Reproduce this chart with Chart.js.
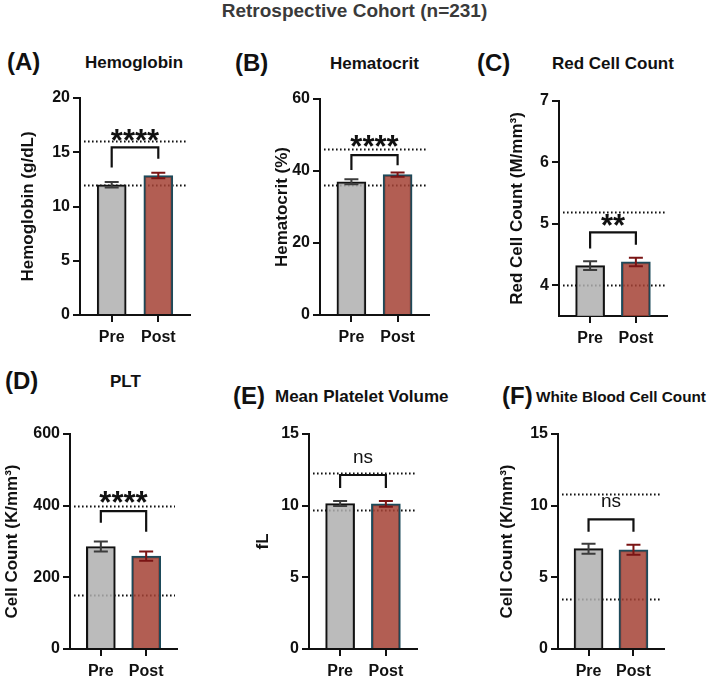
<!DOCTYPE html>
<html>
<head>
<meta charset="utf-8">
<script src="https://cdn.jsdelivr.net/npm/chart.js@4.4.0/dist/chart.umd.min.js"></script>
<style>
body { margin: 0; background: #fff; width: 709px; height: 678px; position: relative; overflow: hidden; font-family: "Liberation Sans", Arial, sans-serif; }
.txt { position: absolute; white-space: nowrap; font-weight: bold; color: #111; }
canvas { position: absolute; }
</style>
</head>
<body>
<div class="txt" style="left:0;width:709px;text-align:center;top:1px;font-size:19px;line-height:19px;color:#3a3a3a">Retrospective Cohort (n=231)</div>
<script>
var groups = ["Pre", "Post"];
var panelIds = ["(A)", "(B)", "(C)", "(D)", "(E)", "(F)"];
var panelTitles = ["Hemoglobin", "Hematocrit", "Red Cell Count", "PLT", "Mean Platelet Volume", "White Blood Cell Count"];
var axisTitles = ["Hemoglobin (g/dL)", "Hematocrit (%)", "Red Cell Count (M/mm³)", "Cell Count (K/mm³)", "fL", "Cell Count (K/mm³)"];
var means = [[12.0, 12.85], [37.0, 39.0], [4.32, 4.38], [286, 259], [10.15, 10.12], [7.0, 6.92]];
var sems = [[0.25, 0.25], [0.7, 0.6], [0.07, 0.07], [14, 13], [0.18, 0.2], [0.35, 0.35]];
var refLines = [[12, 16], [36, 46], [4.0, 5.2], [150, 400], [9.7, 12.3], [3.5, 10.8]];
var yTicks = [[0, 5, 10, 15, 20], [0, 20, 40, 60], [4, 5, 6, 7], [0, 200, 400, 600], [0, 5, 10, 15], [0, 5, 10, 15]];
var yMin = [0, 0, 3.5, 0, 0, 0];
var sigLabels = ["****", "****", "**", "****", "ns", "ns"];
var sigY = [16.8, 48.9, 5.09, 430, 13.3, 10.28];
var bracketY = [15.45, 44.4, 4.86, 385, 12.14, 9.05];
var bracketLegs = [[13.6, 14.4], [40.3, 41.6], [4.6, 4.66], [352, 327], [11.23, 11.23], [8.18, 8.18]];

// where each plot area sits on the page
var layout = [
    { left: 80, right: 190, top: 98, bottom: 315, titleOff: 52, idX: 7, titleX: 85, headY: 62, headSize: 17 },
    { left: 320, right: 429, top: 99, bottom: 315, titleOff: 38, idX: 235, titleX: 330, headY: 63, headSize: 17 },
    { left: 559, right: 667, top: 101, bottom: 316, titleOff: 42, idX: 477, titleX: 552, headY: 63, headSize: 17 },
    { left: 70, right: 177, top: 434, bottom: 649, titleOff: 58, idX: 5, titleX: 110, headY: 381, headSize: 17 },
    { left: 309, right: 417, top: 434, bottom: 649, titleOff: 46, idX: 233, titleX: 275, headY: 396, headSize: 17 },
    { left: 558, right: 664, top: 434, bottom: 649, titleOff: 51, idX: 502, titleX: 536, headY: 396, headSize: 15.3 }
];

var fam = '"Liberation Sans", Arial, sans-serif';
var ink = "#111";
var barFill = ["rgba(175,175,175,0.85)", "rgba(164,66,53,0.85)"];
var barEdge = ["#111", "#1d4a5a"];
var errColor = ["#3c3c3c", "#7a1414"];
Chart.defaults.font.family = fam;

var marksPlugin = {
    id: "marks",
    beforeDatasetsDraw: function (chart, args, opts) {
        var i = opts.index, ctx = chart.ctx, a = chart.chartArea, ys = chart.scales.y;
        ctx.save();
        ctx.strokeStyle = ink;
        ctx.lineWidth = 2;
        ctx.setLineDash([1.6, 2.4]);
        refLines[i].forEach(function (v) {
            var y = Math.round(ys.getPixelForValue(v)) + 0.5;
            ctx.beginPath();
            ctx.moveTo(a.left + 4, y);
            ctx.lineTo(a.right - 2, y);
            ctx.stroke();
        });
        ctx.restore();
    },
    afterDatasetsDraw: function (chart, args, opts) {
        var i = opts.index, ctx = chart.ctx, xs = chart.scales.x, ys = chart.scales.y;
        ctx.save();
        // error bars
        for (var j = 0; j < 2; j++) {
            var x = xs.getPixelForValue(j);
            var t = ys.getPixelForValue(means[i][j] + sems[i][j]);
            var b = ys.getPixelForValue(means[i][j] - sems[i][j]);
            ctx.strokeStyle = errColor[j];
            ctx.lineWidth = 2;
            ctx.beginPath();
            ctx.moveTo(x, t); ctx.lineTo(x, b);
            ctx.moveTo(x - 7, t); ctx.lineTo(x + 7, t);
            ctx.moveTo(x - 7, b); ctx.lineTo(x + 7, b);
            ctx.stroke();
        }
        // bracket
        var x0 = xs.getPixelForValue(0), x1 = xs.getPixelForValue(1);
        var by = ys.getPixelForValue(bracketY[i]);
        ctx.strokeStyle = ink;
        ctx.lineWidth = 2.2;
        ctx.beginPath();
        ctx.moveTo(x0, ys.getPixelForValue(bracketLegs[i][0]));
        ctx.lineTo(x0, by);
        ctx.lineTo(x1, by);
        ctx.lineTo(x1, ys.getPixelForValue(bracketLegs[i][1]));
        ctx.stroke();
        // significance label
        var sy = ys.getPixelForValue(sigY[i]);
        ctx.fillStyle = ink;
        ctx.textAlign = "center";
        ctx.textBaseline = "alphabetic";
        if (sigLabels[i] == "ns") {
            ctx.font = "19px " + fam;
            ctx.fillText("ns", (x0 + x1) / 2, sy + 0.26 * 19);
        } else {
            ctx.font = "bold 31px " + fam;
            ctx.fillText(sigLabels[i], (x0 + x1) / 2, sy + 0.58 * 31);
        }
        ctx.restore();
    }
};

function addText(txt, x, cy, size) {
    var d = document.createElement("div");
    d.className = "txt";
    d.textContent = txt;
    d.style.left = x + "px";
    d.style.top = (cy - 0.49 * size) + "px";
    d.style.fontSize = size + "px";
    d.style.lineHeight = size + "px";
    document.body.appendChild(d);
}

function makePanel(i) {
    var L = layout[i];
    var titleSize = 17;
    var yW = L.titleOff + titleSize * 1.2 / 2;
    var padTop = 24, padRight = 14, xH = 36;
    var cLeft = L.left - yW, cTop = L.top - padTop;
    var cW = L.right + padRight - cLeft, cH = L.bottom + xH - cTop;

    addText(panelIds[i], L.idX, L.headY, 24);
    addText(panelTitles[i], L.titleX, L.headY, L.headSize);

    var canvas = document.createElement("canvas");
    canvas.width = Math.round(cW);
    canvas.height = Math.round(cH);
    canvas.style.left = Math.round(cLeft) + "px";
    canvas.style.top = cTop + "px";
    document.body.appendChild(canvas);

    var tickFont = { size: 16, weight: "bold" };
    var yMax = yTicks[i][yTicks[i].length - 1];

    new Chart(canvas.getContext("2d"), {
        type: "bar",
        data: {
            datasets: [{
                data: groups.map(function (g, k) { return { x: k, y: means[i][k] }; }),
                backgroundColor: barFill,
                borderColor: barEdge,
                borderWidth: 2,
                barThickness: 29,
                base: yMin[i]
            }]
        },
        options: {
            responsive: false,
            animation: false,
            layout: { padding: { left: cLeft - Math.round(cLeft), top: padTop, right: padRight, bottom: 0 } },
            plugins: {
                legend: { display: false },
                tooltip: { enabled: false },
                marks: { index: i }
            },
            scales: {
                x: {
                    type: "linear",
                    offset: false,
                    min: -0.68,
                    max: 1.68,
                    afterBuildTicks: function (s) { s.ticks = groups.map(function (g, k) { return { value: k }; }); },
                    afterFit: function (s) { s.height = xH; },
                    ticks: { font: tickFont, color: ink, padding: 6, maxRotation: 0, autoSkip: false, callback: function (v) { return groups[v]; } },
                    grid: { offset: false, drawOnChartArea: false, drawTicks: true, tickLength: 7, color: ink, lineWidth: 2 },
                    border: { display: true, color: ink, width: 2 }
                },
                y: {
                    min: yMin[i],
                    max: yMax,
                    afterBuildTicks: function (s) { s.ticks = yTicks[i].map(function (v) { return { value: v }; }); },
                    afterFit: function (s) { s.width = yW; },
                    ticks: { font: tickFont, color: ink, padding: 3 },
                    grid: { drawOnChartArea: false, drawTicks: true, tickLength: 7, color: ink, lineWidth: 2 },
                    border: { display: true, color: ink, width: 2 },
                    title: { display: true, text: axisTitles[i], color: ink, padding: 0, font: { size: titleSize, weight: "bold" } }
                }
            }
        },
        plugins: [marksPlugin]
    });
}

for (var p = 0; p < 6; p++) {
    makePanel(p);
}
</script>
</body>
</html>
